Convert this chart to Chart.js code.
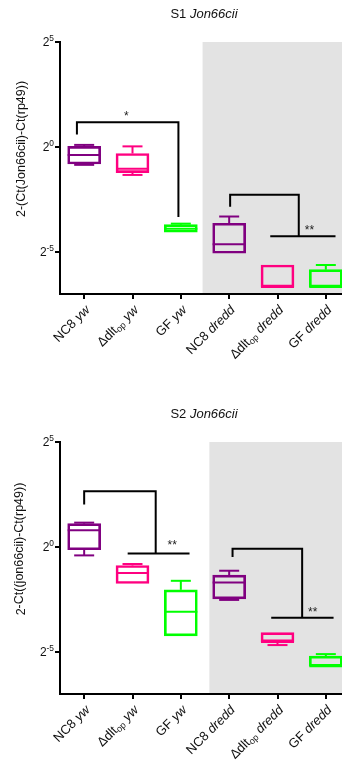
<!DOCTYPE html>
<html>
<head>
<meta charset="utf-8">
<title>Jon66cii S1 / S2</title>
<style>
  body { margin:0; background:#fff; }
  .page { width:342px; height:760px; overflow:hidden; position:relative; }
  .panel { position:absolute; left:0; width:350px; height:400px; }
</style>
<script src="https://cdn.jsdelivr.net/npm/chart.js@4.4.1/dist/chart.umd.min.js"></script>
</head>
<body>
<div class="page">
  <div class="panel" style="top:0"><canvas id="s1" width="350" height="400"></canvas></div>
  <div class="panel" style="top:400px"><canvas id="s2" width="350" height="400"></canvas></div>
</div>
<script>
// categories (strain, subscript, genotype) and box colours
const strains = ['NC8', 'Δdlt', 'GF', 'NC8', 'Δdlt', 'GF'];
const subscripts = ['', 'op', '', '', 'op', ''];
const genotypes = ['yw', 'yw', 'yw', 'dredd', 'dredd', 'dredd'];
const colors = ['#800080', '#ff0080', '#00ff00', '#800080', '#ff0080', '#00ff00'];
const yTicks = [-5, 0, 5];   // exponents of 2

// S1 box values (log2)
const s1Min = [-0.85, -1.33, -4.06, -5.06, -6.67, -6.67];
const s1Q1  = [-0.81, -1.22, -4.06, -5.06, -6.67, -6.67];
const s1Med = [-0.38, -1.03, -3.89, -4.63, -6.67, -6.67];
const s1Q3  = [0.03, -0.31, -3.70, -3.63, -5.62, -5.84];
const s1Max = [0.10, 0.03, -3.65, -3.31, -5.62, -5.62];
// brackets: [xLeft, xRight, yTop, yLeftEnd, yRightEnd]
const s1Brackets = [[-0.15, 1.95, 1.18, 0.6, -3.33], [3.02, 4.44, -2.27, -2.84, -4.25]];
const s1Cross = [null, [3.85, 5.2]];
const s1Stars = ['*', '**'];
const s1StarX = [0.87, 4.66];
const s1StarY = [1.6, -3.8];

// S2 box values (log2)
const s2Min = [-0.40, -1.74, -4.23, -2.52, -4.67, -5.68];
const s2Q1  = [-0.13, -1.74, -4.23, -2.47, -4.52, -5.68];
const s2Med = [0.80, -1.24, -3.08, -1.69, -4.52, -5.68];
const s2Q3  = [1.11, -0.88, -2.04, -1.34, -4.08, -5.20];
const s2Max = [1.16, -0.81, -1.61, -1.13, -4.08, -5.10];
const s2Brackets = [[0, 1.48, 2.65, 2.02, -0.31], [3.07, 4.51, -0.08, -0.48, -3.37]];
const s2Cross = [[0.9, 2.18], [3.87, 5.16]];
const s2Stars = ['**', '**'];
const s2StarX = [1.82, 4.73];
const s2StarY = [0.22, -2.97];

const FONT = '"Liberation Sans", Arial, Helvetica, sans-serif';
const font = (size, italic) => (italic ? 'italic ' : '') + size + 'px ' + FONT;

function measure(ctx, segs, size) {
  let w = 0;
  for (const s of segs) {
    ctx.font = font(s.small ? size * 0.7 : size, s.italic);
    s.w = ctx.measureText(s.t).width;
    w += s.w;
  }
  return w;
}
function drawSegs(ctx, segs, x, y, size) {
  ctx.textAlign = 'left';
  let cx = x;
  for (const s of segs) {
    ctx.font = font(s.small ? size * 0.7 : size, s.italic);
    ctx.fillText(s.t, cx, y + (s.dy || 0));
    cx += s.w;
  }
}
function labelSegs(i) {
  const segs = [{ t: strains[i] }];
  if (subscripts[i]) segs.push({ t: subscripts[i], small: true, dy: 3 });
  segs.push({ t: ' ' }, { t: genotypes[i], italic: true });
  return segs;
}

const boxPlot = {
  id: 'boxPlot',
  beforeDatasetsDraw(chart, args, o) {
    const { ctx, chartArea: a, scales: { x } } = chart;
    const bx = x.getPixelForValue(o.band);
    ctx.save();
    ctx.fillStyle = '#e3e3e3';
    ctx.fillRect(bx, a.top, a.right - bx, a.bottom - a.top - 1);
    ctx.restore();
  },
  afterDatasetsDraw(chart, args, o) {
    const { ctx, scales: { x, y } } = chart;
    const bars = chart.getDatasetMeta(0).data;
    const seg = (x1, y1, x2, y2) => { ctx.beginPath(); ctx.moveTo(x1, y1); ctx.lineTo(x2, y2); ctx.stroke(); };
    ctx.save();
    ctx.lineWidth = 2;
    bars.forEach((b, i) => {
      ctx.strokeStyle = colors[i];
      const hw = b.width / 2, cap = 10;
      const yMed = y.getPixelForValue(o.med[i]);
      seg(b.x - hw, yMed, b.x + hw, yMed);
      const yQ3 = y.getPixelForValue(o.q3[i]), yMax = y.getPixelForValue(o.max[i]);
      const yQ1 = y.getPixelForValue(o.q1[i]), yMin = y.getPixelForValue(o.min[i]);
      if (yMax < yQ3) { seg(b.x, yQ3, b.x, yMax); seg(b.x - cap, yMax, b.x + cap, yMax); }
      if (yMin > yQ1) { seg(b.x, yQ1, b.x, yMin); seg(b.x - cap, yMin, b.x + cap, yMin); }
    });
    // significance brackets
    ctx.strokeStyle = '#000';
    ctx.lineJoin = 'miter';
    o.brackets.forEach((br, i) => {
      const [xl, xr, yt, yl, yr] = br;
      ctx.beginPath();
      ctx.moveTo(x.getPixelForValue(xl), y.getPixelForValue(yl));
      ctx.lineTo(x.getPixelForValue(xl), y.getPixelForValue(yt));
      ctx.lineTo(x.getPixelForValue(xr), y.getPixelForValue(yt));
      ctx.lineTo(x.getPixelForValue(xr), y.getPixelForValue(yr));
      ctx.stroke();
      if (o.cross[i]) seg(x.getPixelForValue(o.cross[i][0]), y.getPixelForValue(yr), x.getPixelForValue(o.cross[i][1]), y.getPixelForValue(yr));
    });
    ctx.fillStyle = '#222';
    ctx.font = font(12);
    ctx.textAlign = 'center';
    ctx.textBaseline = 'alphabetic';
    o.stars.forEach((s, i) => ctx.fillText(s, x.getPixelForValue(o.starX[i]), y.getPixelForValue(o.starY[i]) + 7));
    ctx.restore();
  },
  afterDraw(chart, args, o) {
    const { ctx, chartArea: a, scales: { x, y } } = chart;
    ctx.save();
    ctx.fillStyle = '#111';
    ctx.textBaseline = 'middle';
    // title
    const tw = measure(ctx, o.title, 13);
    drawSegs(ctx, o.title, 204 - tw / 2, 14, 13);
    // y tick labels 2^n
    ctx.textBaseline = 'alphabetic';
    yTicks.forEach(v => {
      const segs = [{ t: '2' }, { t: String(v), small: true, dy: -5 }];
      const w = measure(ctx, segs, 12);
      drawSegs(ctx, segs, a.left - 6 - w, y.getPixelForValue(v) + 4, 12);
    });
    // y title
    ctx.save();
    ctx.translate(22, 149);
    ctx.rotate(-Math.PI / 2);
    ctx.textBaseline = 'middle';
    const yw = measure(ctx, o.yTitle, 12.5);
    drawSegs(ctx, o.yTitle, -yw / 2, 0, 12.5);
    ctx.restore();
    // x labels, rotated 45deg
    ctx.textBaseline = 'middle';
    strains.forEach((s, i) => {
      const segs = labelSegs(i);
      const w = measure(ctx, segs, 13);
      ctx.save();
      ctx.translate(x.getPixelForValue(i) + 4, a.bottom + 14);
      ctx.rotate(-Math.PI / 4);
      drawSegs(ctx, segs, -w, 0, 13);
      ctx.restore();
    });
    ctx.restore();
  }
};

function makeChart(id, q1, q3, min, med, max, extra) {
  new Chart(document.getElementById(id), {
    type: 'bar',
    data: {
      labels: strains.map((s, i) => s + (subscripts[i] ? '_' + subscripts[i] : '') + ' ' + genotypes[i]),
      datasets: [{
        data: q1.map((v, i) => [v, q3[i]]),
        borderColor: colors,
        backgroundColor: 'rgba(0,0,0,0)',
        borderWidth: 2,
        borderSkipped: false,
        barThickness: 33
      }]
    },
    options: {
      responsive: false,
      animation: false,
      devicePixelRatio: 1,
      layout: { padding: { top: 42, left: 0, right: 0, bottom: 0 } },
      scales: {
        x: {
          offset: true,
          ticks: { display: false },
          grid: { display: true, offset: false, drawOnChartArea: false, tickLength: 5, color: '#000', lineWidth: 2 },
          border: { display: true, color: '#000', width: 2 },
          afterFit: s => { s.height = 106; }
        },
        y: {
          min: -7, max: 5,
          afterBuildTicks: s => { s.ticks = yTicks.map(v => ({ value: v })); },
          ticks: { display: false },
          grid: { display: true, drawOnChartArea: false, tickLength: 5, color: '#000', lineWidth: 2 },
          border: { display: true, color: '#000', width: 2 },
          afterFit: s => { s.width = 60; }
        }
      },
      plugins: {
        legend: { display: false },
        tooltip: { enabled: false },
        boxPlot: Object.assign({ q1, q3, min, med, max }, extra)
      }
    },
    plugins: [boxPlot]
  });
}

makeChart('s1', s1Q1, s1Q3, s1Min, s1Med, s1Max, {
  band: 2.45,
  brackets: s1Brackets, cross: s1Cross, stars: s1Stars, starX: s1StarX, starY: s1StarY,
  title: [{ t: 'S1 ' }, { t: 'Jon66cii', italic: true }],
  yTitle: [{ t: '2-(Ct(Jon66cii)-Ct(rp49))' }]
});
makeChart('s2', s2Q1, s2Q3, s2Min, s2Med, s2Max, {
  band: 2.59,
  brackets: s2Brackets, cross: s2Cross, stars: s2Stars, starX: s2StarX, starY: s2StarY,
  title: [{ t: 'S2 ' }, { t: 'Jon66cii', italic: true }],
  yTitle: [{ t: '2' }, { t: '-Ct((jon66cii)-Ct(rp49))', dy: -2 }]
});
</script>
</body>
</html>
